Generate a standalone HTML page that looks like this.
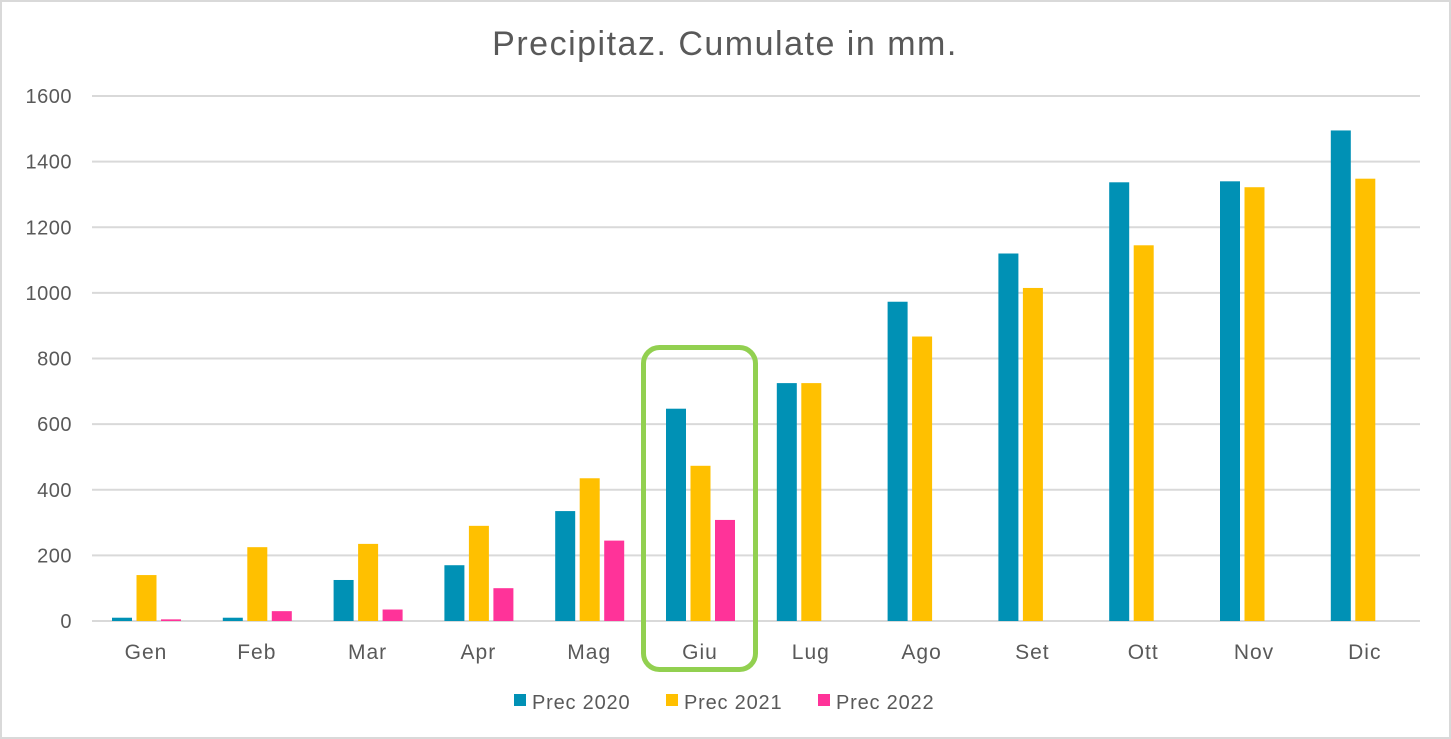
<!DOCTYPE html>
<html><head><meta charset="utf-8"><style>
body{margin:0;background:#fff}
svg{display:block}
text{font-family:"Liberation Sans",sans-serif;fill:#595959}
</style></head><body>
<svg width="1451" height="739" viewBox="0 0 1451 739">
<rect x="1" y="1" width="1449" height="737" fill="#fff" stroke="#d9d9d9" stroke-width="2"/>
<text x="725" y="55" font-size="34" text-anchor="middle" letter-spacing="1.5">Precipitaz. Cumulate in mm.</text>
<g id="grid" stroke="#d9d9d9" stroke-width="2"></g>
<g id="ylab" font-size="20" text-anchor="end" letter-spacing="0.5"></g>
<g id="bars"></g>
<g id="xlab" font-size="21" text-anchor="middle" letter-spacing="1"></g>
<rect x="643.5" y="347.5" width="112" height="322" rx="16" fill="none" stroke="#92d050" stroke-width="5"/>
<g font-size="20" letter-spacing="0.8">
<rect x="514" y="694" width="12" height="12" fill="#0091b5"/><text x="532" y="709">Prec 2020</text>
<rect x="666" y="694" width="12" height="12" fill="#ffc000"/><text x="684" y="709">Prec 2021</text>
<rect x="818" y="694" width="12" height="12" fill="#ff3399"/><text x="836" y="709">Prec 2022</text>
</g>
</svg>
<script>
var ns="http://www.w3.org/2000/svg";
function el(p,t,a,txt){var e=document.createElementNS(ns,t);for(var k in a)e.setAttribute(k,a[k]);if(txt)e.textContent=txt;document.getElementById(p).appendChild(e);}
var y0=621,k=525/1600;
for(var v=0;v<=1600;v+=200){var y=y0-v*k;el("grid","line",{x1:92,x2:1420,y1:y,y2:y});el("ylab","text",{x:72,y:y+7},String(v));}
var m=["Gen","Feb","Mar","Apr","Mag","Giu","Lug","Ago","Set","Ott","Nov","Dic"];
var d=[[10,140,5],[10,225,30],[125,235,35],[170,290,100],[335,435,245],[647,473,308],[725,725],[973,867],[1120,1015],[1337,1145],[1340,1322],[1495,1348]];
var c=["#0091b5","#ffc000","#ff3399"];
for(var i=0;i<12;i++){var cx=146+i*110.8;
 el("xlab","text",{x:cx,y:659},m[i]);
 for(var j=0;j<d[i].length;j++){var h=d[i][j]*k;el("bars","rect",{x:cx-34+j*24.5,y:y0-h,width:20,height:h,fill:c[j]});}}
</script>
</body></html>
